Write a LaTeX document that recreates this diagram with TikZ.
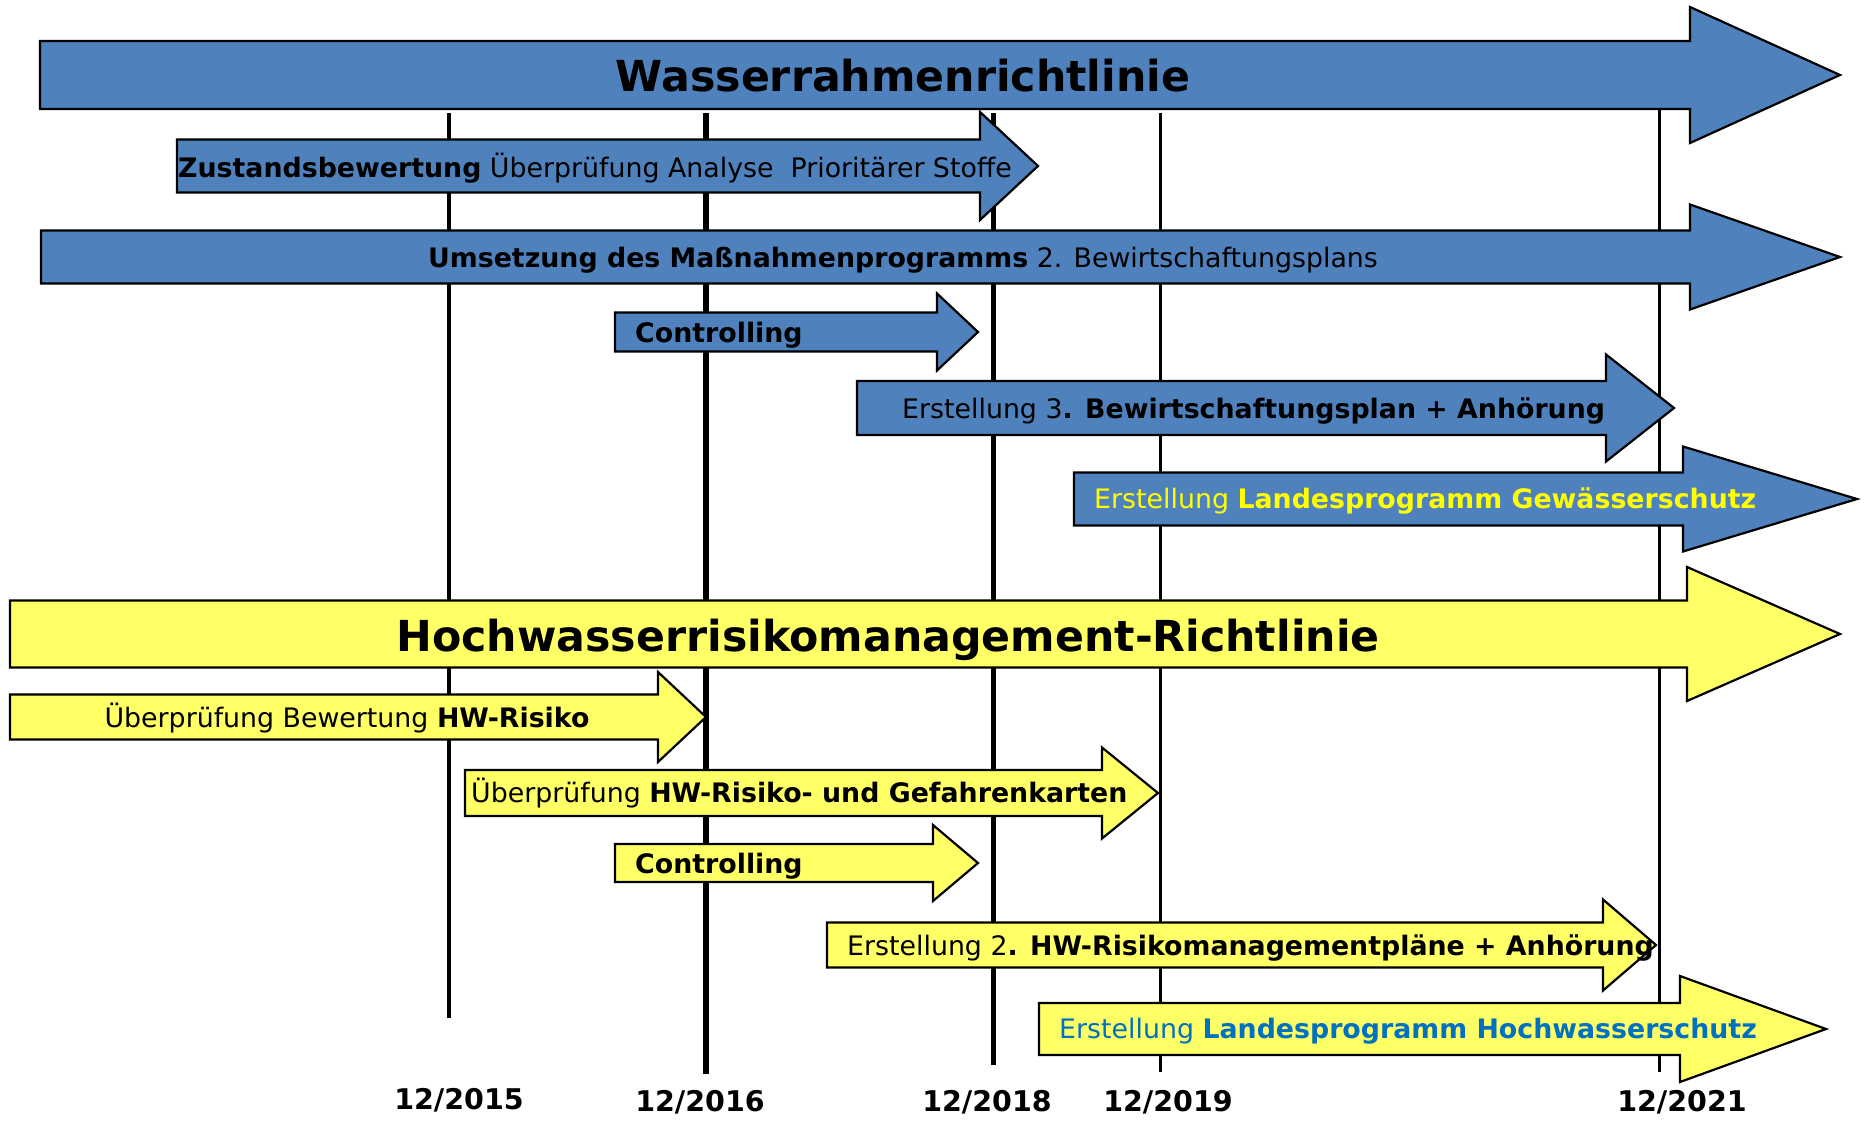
\documentclass[tikz,border=0pt]{standalone}
\usepackage{fontspec}
\setmainfont{DejaVu Sans}
\definecolor{wrrl}{RGB}{79,129,189}
\definecolor{hwrm}{RGB}{255,255,102}
\definecolor{txtyel}{RGB}{255,255,0}
\definecolor{txtblu}{RGB}{0,112,192}
\tikzset{
  bluearrow/.style={fill=wrrl, draw=black, line width=2.2pt},
  yelarrow/.style={fill=hwrm, draw=black, line width=2.2pt},
  yearline/.style={draw=black, line width=#1},
  lbl/.style={inner sep=0pt, font=\fontsize{26.8}{30}\selectfont},
  bigtitle/.style={inner sep=0pt, font=\fontsize{42.7}{48}\selectfont\bfseries},
  datelbl/.style={inner sep=0pt, font=\fontsize{28.5}{32}\selectfont\bfseries},
}
% #1 style, #2 x0, #3 head x, #4 tip x, #5 centre y, #6 body half, #7 head half
\newcommand\ribbonarrow[7]{\draw[#1] (#2,#5-#6) -- (#3,#5-#6) -- (#3,#5-#7) -- (#4,#5) -- (#3,#5+#7) -- (#3,#5+#6) -- (#2,#5+#6) -- cycle;}
\begin{document}
\begin{tikzpicture}[x=1pt,y=-1pt]
\useasboundingbox[fill=white] (0,0) rectangle (1865,1124);
% year lines
\coordinate (l15a) at (449,113); \coordinate (l15b) at (449,1018);
\coordinate (l16a) at (706,113); \coordinate (l16b) at (706,1074);
\coordinate (l18a) at (993,113); \coordinate (l18b) at (993,1065);
\coordinate (l19a) at (1160,113); \coordinate (l19b) at (1160,1072);
\coordinate (l21a) at (1659,108); \coordinate (l21b) at (1659,1072);
\draw[yearline=4.5pt] (l15a) -- (l15b);
\draw[yearline=5.5pt] (l16a) -- (l16b);
\draw[yearline=5pt] (l18a) -- (l18b);
\draw[yearline=3pt] (l19a) -- (l19b);
\draw[yearline=3pt] (l21a) -- (l21b);
% blue arrows
\ribbonarrow{bluearrow}{40}{1690}{1840}{75}{34}{68}
\ribbonarrow{bluearrow}{177}{980}{1038}{166}{26.5}{54}
\ribbonarrow{bluearrow}{41}{1690}{1840}{257}{26.5}{52.5}
\ribbonarrow{bluearrow}{615}{937}{978}{332}{19.5}{38.5}
\ribbonarrow{bluearrow}{857}{1606}{1674}{408}{27}{53.5}
\ribbonarrow{bluearrow}{1074}{1683}{1857}{499}{26.5}{52.5}
% yellow arrows
\ribbonarrow{yelarrow}{10}{1687}{1840}{634}{33.5}{67}
\ribbonarrow{yelarrow}{10}{658}{706}{717}{22.5}{45}
\ribbonarrow{yelarrow}{465}{1102}{1158}{793}{23}{45.5}
\ribbonarrow{yelarrow}{615}{933}{978}{863}{19}{38}
\ribbonarrow{yelarrow}{827}{1603}{1656}{945}{22.5}{45.5}
\ribbonarrow{yelarrow}{1039}{1680}{1826}{1029}{26}{53}
% texts
\node[bigtitle, anchor=base] (t1) at (903,91) {Wasserrahmenrichtlinie};
\node[lbl, anchor=base west] (t2) at (178,177) {\textbf{Zustandsbewertung} Überprüfung Analyse\ \ Prioritärer Stoffe};
\node[lbl, anchor=base] (t3) at (903,267) {\textbf{Umsetzung des Maßnahmenprogramms} 2. Bewirtschaftungsplans};
\node[lbl, anchor=base west] (t4) at (635,342) {\textbf{Controlling}};
\node[lbl, anchor=base west] (t5) at (902,418) {Erstellung 3\textbf{. Bewirtschaftungsplan + Anhörung}};
\node[lbl, anchor=base west, text=txtyel] (t6) at (1094,508) {Erstellung \textbf{Landesprogramm Gewässerschutz}};
\node[bigtitle, anchor=base] (t7) at (888,651) {Hochwasserrisikomanagement-Richtlinie};
\node[lbl, anchor=base] (t8) at (347,727) {Überprüfung Bewertung \textbf{HW-Risiko}};
\node[lbl, anchor=base west] (t9) at (471,802) {Überprüfung \textbf{HW-Risiko- und Gefahrenkarten}};
\node[lbl, anchor=base west] (t10) at (635,873) {\textbf{Controlling}};
\node[lbl, anchor=base west] (t11) at (847,955) {Erstellung 2\textbf{. HW-Risikomanagementpläne + Anhörung}};
\node[lbl, anchor=base west, text=txtblu] (t12) at (1059,1038) {Erstellung \textbf{Landesprogramm Hochwasserschutz}};
% dates
\node[datelbl, anchor=base] (d15) at (459,1109) {12/2015};
\node[datelbl, anchor=base] (d16) at (700,1111) {12/2016};
\node[datelbl, anchor=base] (d18) at (987,1111) {12/2018};
\node[datelbl, anchor=base] (d19) at (1168,1111) {12/2019};
\node[datelbl, anchor=base] (d21) at (1682,1111) {12/2021};
\end{tikzpicture}
\end{document}
